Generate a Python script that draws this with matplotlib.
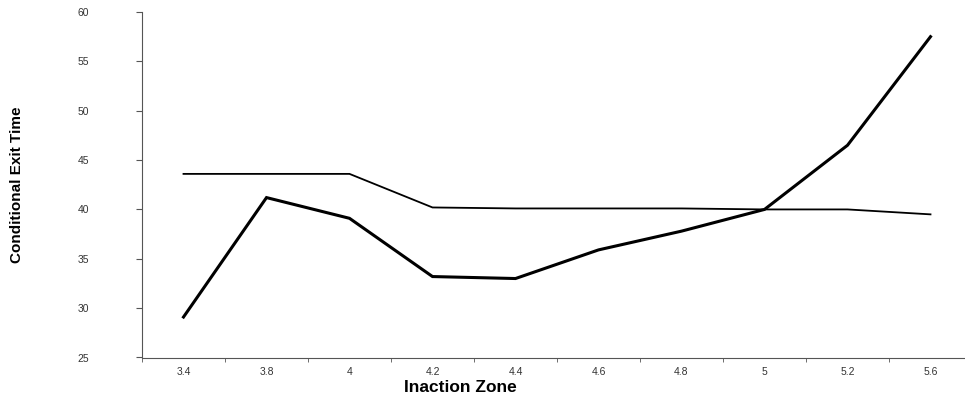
import matplotlib.pyplot as plt
import numpy as np

plt.rcParams['font.family'] = ['Liberation Sans', 'DejaVu Sans']

# Inaction zone categories and the two exit time series
zones = ['3.4', '3.8', '4', '4.2', '4.4', '4.6', '4.8', '5', '5.2', '5.6']
exit_thin = [43.6, 43.6, 43.6, 40.2, 40.1, 40.1, 40.1, 40.0, 40.0, 39.5]
exit_thick = [29.1, 41.2, 39.1, 33.2, 33.0, 35.9, 37.8, 40.0, 46.5, 57.5]

fig = plt.figure(figsize=(9.65, 4.01), dpi=100)
ax = fig.add_axes([142 / 965, 43.5 / 401, 830 / 965, 345.5 / 401])

x = np.arange(len(zones))
ax.plot(x, exit_thin, color='black', lw=1.3, solid_joinstyle='miter')
ax.plot(x, exit_thick, color='black', lw=2.2, solid_joinstyle='miter')

ax.set_xlim(-0.5, len(zones) - 0.5)
ax.set_ylim(25, 60)
ax.set_yticks(range(25, 61, 5))
ax.set_xticks(x)
ax.set_xticklabels(zones)
ax.set_xticks(np.arange(len(zones)) - 0.5, minor=True)

for s in ['top', 'right']:
    ax.spines[s].set_visible(False)
for s in ['left', 'bottom']:
    ax.spines[s].set_color('#555555')
    ax.spines[s].set_linewidth(0.8)

ax.tick_params(axis='x', which='major', length=0, pad=7, labelsize=7.5, labelcolor='#333333')
ax.tick_params(axis='x', which='minor', length=3, direction='out', color='#555555')
ax.tick_params(axis='y', length=4, direction='out', color='#555555', pad=34,
               labelsize=7.5, labelcolor='#333333')

fig.text(460 / 965, 1 - 388 / 401, 'Inaction Zone', ha='center', va='center',
         fontsize=12.5, fontweight='bold')
fig.text(17 / 965, 1 - 185 / 401, 'Conditional Exit Time', rotation=90,
         ha='center', va='center', fontsize=11, fontweight='bold')

fig.savefig('out.png', dpi=100)
